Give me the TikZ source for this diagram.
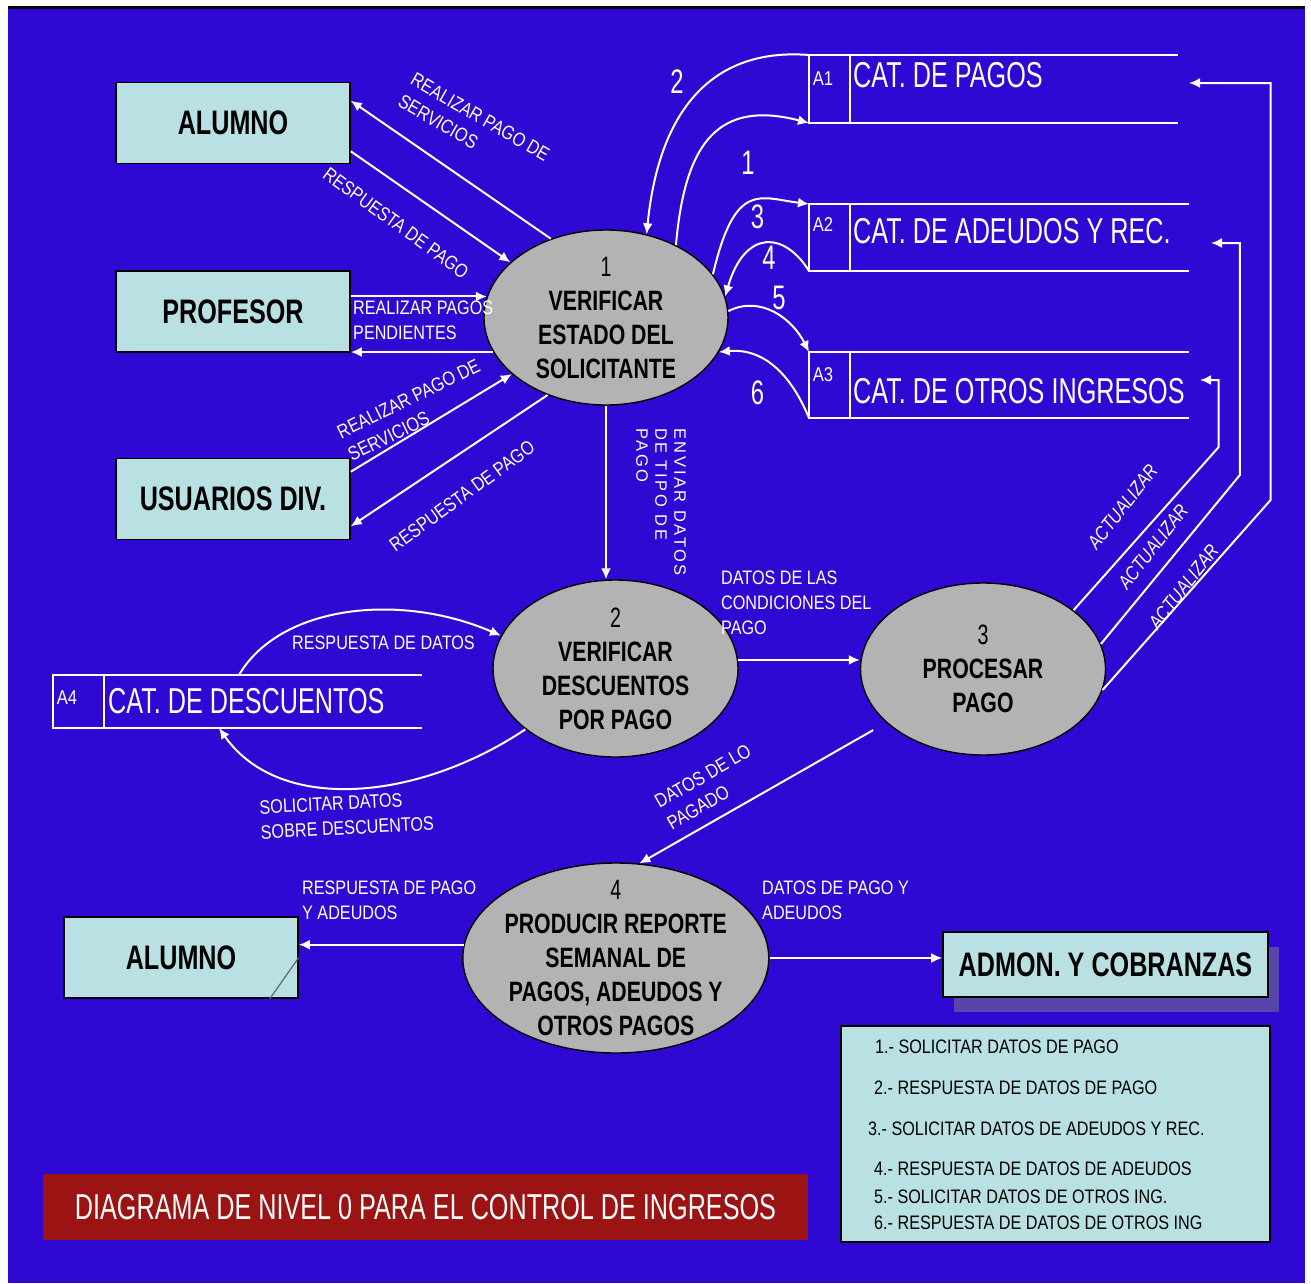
\documentclass[tikz,border=0pt]{standalone}
\usepackage{fontspec}
\setmainfont{Liberation Sans}
\newfontfamily\lblfont[FakeStretch=0.83]{Liberation Sans}
\newfontfamily\catfont[FakeStretch=0.7]{Liberation Sans}
\newfontfamily\procfont[FakeStretch=0.76]{Liberation Sans}
\newfontfamily\entfont[FakeStretch=0.74]{Liberation Sans}
\newfontfamily\sparsefont[LetterSpace=16]{Liberation Sans}
\usepackage{tikz}
\usetikzlibrary{shapes,arrows,positioning,calc,arrows.meta,shadows}

\definecolor{dfdblue}{RGB}{48,8,212}
\definecolor{entfill}{RGB}{185,224,227}
\definecolor{procfill}{RGB}{179,179,179}
\definecolor{titlered}{RGB}{155,19,19}
\definecolor{shadowcol}{RGB}{86,70,170}

\begin{document}
\begin{tikzpicture}[x=1pt, y=-1pt,
    entity/.style={draw=black, line width=1.6pt, fill=entfill, inner sep=0pt,
        font=\entfont\bfseries\fontsize{34}{36}\selectfont},
    proc/.style={ellipse, draw=black, line width=1.4pt, fill=procfill, inner sep=0pt},
    proctxt/.style={align=center, inner sep=0pt, font=\procfont\bfseries\fontsize{28}{34}\selectfont},
    flow/.style={white, line width=2pt, -{Latex[length=11pt,width=10pt]}},
    storeline/.style={white, line width=2pt},
    store/.style={inner sep=0pt, outer sep=0pt, anchor=north west},
    lbl/.style={text=white, align=left, inner sep=1pt, font=\lblfont\fontsize{19.5}{25}\selectfont},
    num/.style={text=white, inner sep=0pt, font=\catfont\fontsize{34}{36}\selectfont},
    cat/.style={text=white, inner sep=0pt, anchor=west, font=\catfont\fontsize{36}{40}\selectfont},
    catid/.style={text=white, inner sep=0pt, font=\lblfont\fontsize{20}{22}\selectfont},
    legtxt/.style={anchor=west, inner sep=0pt, font=\lblfont\fontsize{19.5}{22}\selectfont}]

    \useasboundingbox (0,0) rectangle (1311,1283);
    \fill[white] (0,0) rectangle (1311,1283);
    \fill[dfdblue] (8,9) rectangle (1305,1283);
    \draw[black, line width=2.5pt] (8,7.5) -- (1305,7.5);

    \node[entity, minimum width=234pt, minimum height=81pt] (alumno) at (233,123) {ALUMNO};
    \node[entity, minimum width=234pt, minimum height=81pt] (profesor) at (233,311.5) {PROFESOR};
    \node[entity, minimum width=234pt, minimum height=81pt] (usuarios) at (233,499) {USUARIOS DIV.};
    \node[entity, minimum width=234pt, minimum height=81pt] (alumnob) at (181,957.5) {ALUMNO};
    \draw[black!60, line width=1.2pt] (alumnob.east) -- ([xshift=-29pt]alumnob.south east);
    \node[entity, minimum width=325pt, minimum height=65pt,
        drop shadow={shadow xshift=11pt, shadow yshift=-15pt, fill=shadowcol, opacity=1}] (admon) at (1105.5,964.5) {ADMON. Y COBRANZAS};

    \node[proc, minimum width=244pt, minimum height=175pt] (p1) at (606,317.5) {};
    \node[proctxt] (p1t) at (p1) {{\catfont\mdseries 1}\\VERIFICAR\\ESTADO DEL\\SOLICITANTE};
    \node[proc, minimum width=245pt, minimum height=177pt] (p2) at (615.5,668.5) {};
    \node[proctxt] (p2t) at (p2) {{\catfont\mdseries 2}\\VERIFICAR\\DESCUENTOS\\POR PAGO};
    \node[proc, minimum width=245pt, minimum height=172pt] (p3) at (983,669) {};
    \node[proctxt] (p3t) at (p3) {{\catfont\mdseries 3}\\PROCESAR\\PAGO};
    \node[proc, minimum width=306pt, minimum height=190pt] (p4) at (615.8,958) {};
    \node[proctxt] (p4t) at (p4) {{\catfont\mdseries 4}\\PRODUCIR REPORTE\\SEMANAL DE\\PAGOS, ADEUDOS Y\\OTROS PAGOS};

    \node[store, minimum width=369pt, minimum height=68pt] (a1) at (809,55) {};
    \node[store, minimum width=380pt, minimum height=67pt] (a2) at (809,204) {};
    \node[store, minimum width=380pt, minimum height=66pt] (a3) at (809,352) {};
    \node[store, minimum width=369pt, minimum height=53pt] (a4) at (53,675) {};
    \foreach \s/\d in {a1/41, a2/41, a3/41, a4/51} {
        \draw[storeline] (\s.north east) -- (\s.north west) -- (\s.south west) -- (\s.south east);
        \draw[storeline] ([xshift=\d pt]\s.north west) -- ([xshift=\d pt]\s.south west);
    }
    \node[catid] (a1id) at (823,79) {A1};
    \node[cat] (a1txt) at (853,75) {CAT. DE PAGOS};
    \node[catid] (a2id) at (823,225) {A2};
    \node[cat] (a2txt) at (853,231.5) {CAT. DE ADEUDOS Y REC.};
    \node[catid] (a3id) at (823,375) {A3};
    \node[cat] (a3txt) at (853,391.5) {CAT. DE OTROS INGRESOS};
    \node[catid] (a4id) at (67,698) {A4};
    \node[cat] (a4txt) at (108,701.5) {CAT. DE DESCUENTOS};

    \draw[flow] (p1.125) -- ([yshift=-19pt]alumno.north east);
    \draw[flow] ([yshift=13pt]alumno.south east) -- (p1.150);
    \draw[flow] (profesor.east |- p1.170) -- (p1.170);
    \draw[flow] (p1.197) -- (p1.197 -| profesor.east);
    \draw[flow] ([yshift=-14pt]usuarios.north east) -- (p1.211);
    \draw[flow] (p1.233) -- ([yshift=14pt]usuarios.south east);
    \draw[flow] (p1.south) -- (p1.south |- p2.north);
    \draw[flow] (p2.4) -- (p2.4 -| p3.west);
    \draw[flow, shorten <=15pt] (p3.209) -- (p4.76);
    \draw[flow] (p4.175) -- (p4.175 -| alumnob.east);
    \draw[flow] (p4.east) -- (p4.east -| admon.west);

    \draw[flow] (a1.north west) .. controls (720,48) and (660,100) .. (p1.64);
    \draw[flow] (p1.46) .. controls (685,140) and (720,100) .. (a1.south west);
    \draw[flow] (p1.22) .. controls (735,180) and (760,198) .. (a2.north west);
    \draw[flow] (a2.south west) .. controls (785,232) and (745,228) .. (p1.10);
    \draw[flow] (p1.3) .. controls (760,295) and (792,318) .. (a3.north west);
    \draw[flow] (a3.south west) .. controls (790,372) and (762,348) .. (p1.343);
    \draw[flow] ([xshift=186pt]a4.north west) .. controls (280,605) and (400,592) .. (p2.164);
    \draw[flow] (p2.214) .. controls (420,800) and (280,815) .. ([xshift=166pt]a4.south west);

    \coordinate (a1in) at (1189,83);
    \coordinate (a2in) at (1211,243);
    \coordinate (a3in) at (1200,380);
    \draw[flow] (p3.33) -- ++(145,-163) |- (a3in);
    \draw[flow] (p3.12) -- ++(139,-169) |- (a2in);
    \draw[flow] (p3.350) -- ++(168,-190) |- (a1in);

    \node[num] (n1) at (748,163) {1};
    \node[num] (n2) at (677,82) {2};
    \node[num] (n3) at (757.5,217) {3};
    \node[num] (n4) at (769,258) {4};
    \node[num] (n5) at (779,298) {5};
    \node[num] (n6) at (757.5,393) {6};

    \node[lbl, rotate=-30] (l1) at (474,128) {REALIZAR PAGO DE\\SERVICIOS};
    \node[lbl, rotate=-36] (l2) at (396,223) {RESPUESTA DE PAGO};
    \node[lbl, anchor=west] (l3) at (352,320) {REALIZAR PAGOS\\PENDIENTES};
    \node[lbl, rotate=26] (l4) at (414,410) {REALIZAR PAGO DE\\SERVICIOS};
    \node[lbl, rotate=36] (l5) at (462,496) {RESPUESTA DE PAGO};
    \node[lbl, rotate=-90, anchor=north west, font=\sparsefont\fontsize{16.5}{19}\selectfont] (l6) at (687,427) {ENVIAR DATOS\\DE TIPO DE\\PAGO};
    \node[lbl, anchor=west] (l7) at (720,603) {DATOS DE LAS\\CONDICIONES DEL\\PAGO};
    \node[lbl, anchor=west] (l8) at (291,643) {RESPUESTA DE DATOS};
    \node[lbl, anchor=west, rotate=3] (l9) at (259,820) {SOLICITAR DATOS\\SOBRE DESCUENTOS};
    \node[lbl, rotate=30] (l10) at (709,787) {DATOS DE LO\\PAGADO};
    \node[lbl, anchor=west] (l11) at (301,900) {RESPUESTA DE PAGO\\Y ADEUDOS};
    \node[lbl, anchor=west] (l12) at (761,900) {DATOS DE PAGO Y\\ADEUDOS};
    \foreach \x/\y [count=\i] in {1122.5/506.7, 1153/546.7, 1183.5/586.7}
        \node[lbl, rotate=52, font=\lblfont\itshape\fontsize{19.5}{25}\selectfont] (act\i) at (\x,\y) {ACTUALIZAR};

    \node[draw=black, line width=1.6pt, fill=entfill, minimum width=429pt, minimum height=216pt, inner sep=0pt] (legend) at (1055.5,1134) {};
    \foreach \x/\y/\t [count=\i] in {875/1047/{1.- SOLICITAR DATOS DE PAGO}, 874/1088/{2.- RESPUESTA DE DATOS DE PAGO},
        868/1129/{3.- SOLICITAR DATOS DE ADEUDOS Y REC.}, 874/1169/{4.- RESPUESTA DE DATOS DE ADEUDOS},
        874/1197/{5.- SOLICITAR DATOS DE OTROS ING.}, 874/1223/{6.- RESPUESTA DE DATOS DE OTROS ING}}
        \node[legtxt] (leg\i) at (\x,\y) {\t};

    \node[fill=titlered, minimum width=765pt, minimum height=66pt, inner sep=0pt, text=white,
        font=\catfont\fontsize{36}{40}\selectfont] (title) at (425.5,1207) {DIAGRAMA DE NIVEL 0 PARA EL CONTROL DE INGRESOS};
\end{tikzpicture}
\end{document}
